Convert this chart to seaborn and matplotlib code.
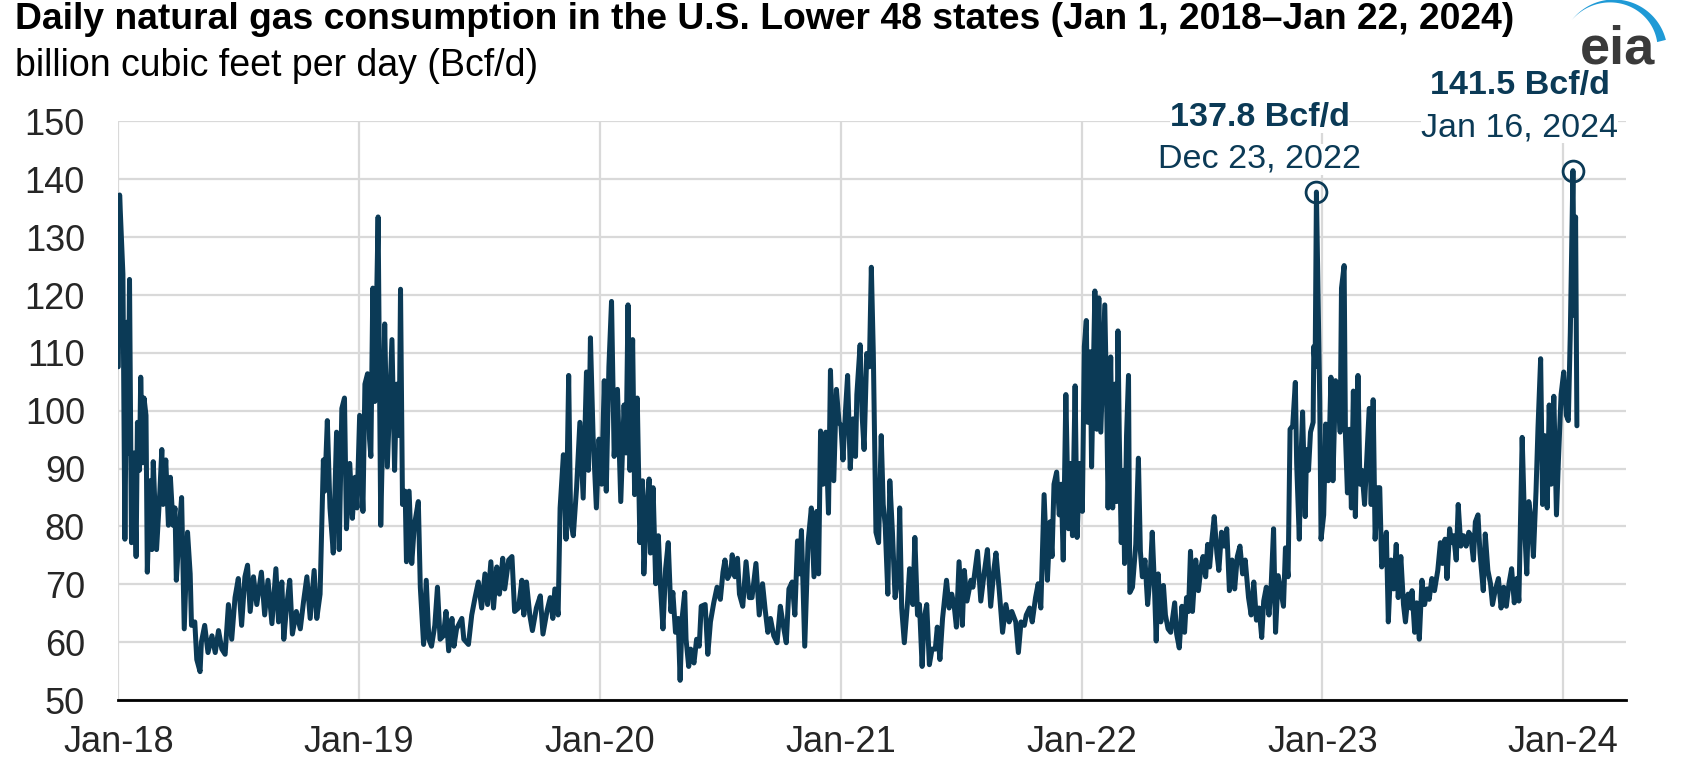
import numpy as np
import pandas as pd
import matplotlib
matplotlib.use("Agg")
import matplotlib.pyplot as plt
import matplotlib.dates as mdates
import seaborn as sns

# daily consumption, day offsets counted from Jan 1, 2018
days_2018 = [0, 2, 7, 10, 13, 15, 17, 20, 24, 27, 29, 32, 34, 37, 39, 42, 44, 48, 51, 53,
             58, 63, 66, 68, 72, 76, 79, 83, 86, 88, 93, 96, 100, 105, 109, 111, 116, 119, 124, 126,
             131, 136, 142, 147, 152, 157, 162, 167, 172, 177, 182, 187, 192, 196, 200, 205, 210, 217, 222, 227,
             233, 239, 243, 248, 251, 255, 260, 264, 270, 276, 281, 286, 291, 297, 301, 306, 311, 313, 317, 321,
             326, 331, 335, 339, 343, 346, 351, 355, 359, 362]
bcf_2018 = [107.6, 137.3, 123.6, 77.8, 115.3, 92.7, 122.7, 77.2, 92.7, 74.8, 98, 89.7, 105.8, 91, 102.2, 99.2, 72.1, 87.9, 76, 91.2,
            76, 86, 93.3, 83.8, 91.5, 80.2, 88.5, 80.2, 83.2, 70.7, 80.2, 85, 62.3, 79, 71.8, 62.9, 63.5, 57, 54.9, 60,
            62.9, 58.2, 61.1, 58.2, 62, 58.8, 57.9, 66.5, 60.5, 67.7, 71, 62.9, 71.3, 73.3, 65.3, 71.3, 66.5, 72.1, 64.7, 70.7,
            63.2, 72.7, 63.5, 70.4, 60.5, 65.9, 70.7, 61.4, 65.3, 62.3, 67.1, 71.3, 64.1, 72.4, 64.1, 68.3, 91.5, 86.1, 98.3, 83.2,
            75.4, 96.3, 76, 100.4, 102.2, 79.6, 90.9, 81.4, 88.5, 83.2]

days_2019 = [366, 371, 374, 378, 381, 383, 386, 389, 394, 398, 402, 404, 408, 415, 419, 422, 426, 428, 431, 435,
             437, 441, 445, 449, 455, 458, 463, 467, 471, 475, 480, 484, 488, 493, 497, 501, 506, 509, 513, 521,
             524, 531, 536, 541, 546, 551, 556, 560, 565, 569, 574, 578, 583, 586, 592, 597, 601, 607, 612, 615,
             619, 624, 628, 634, 640, 644, 650, 655, 659, 662, 667, 670, 675, 679, 683, 686, 690, 695, 700, 705,
             710, 713, 716, 720, 725]
bcf_2019 = [99.2, 82.6, 104.6, 106.4, 95.1, 92.1, 121.2, 101.6, 133.5, 80.2, 101.6, 115, 90.3, 112.3, 89.7, 104.6, 95.7, 121, 83.8, 86.1,
            73.9, 86.1, 73.6, 80.2, 84.3, 69.5, 59.6, 70.7, 60.5, 59.3, 62.9, 69.5, 60.5, 61.1, 65.3, 58.5, 64.1, 59.3, 62.3, 64.1,
            60.5, 59.6, 64.7, 67.7, 70.4, 65.9, 71.8, 66.5, 73.9, 65.9, 73, 68.3, 74.5, 69.2, 74.2, 74.8, 65.3, 65.9, 70.7, 64.7,
            70.4, 64.7, 62, 65.9, 68, 61.4, 65.3, 67.7, 64.1, 69.2, 64.7, 83.2, 92.4, 77.8, 106.1, 80.8, 78.4, 86.7, 98, 84.9,
            106.7, 89.7, 112.6, 95.7, 83.2]

days_2020 = [729, 733, 737, 740, 744, 748, 752, 757, 762, 767, 770, 773, 776, 780, 783, 787, 791, 795, 797, 801,
             805, 807, 811, 815, 819, 822, 826, 830, 834, 838, 841, 845, 849, 852, 855, 859, 861, 865, 868, 873,
             877, 881, 884, 890, 894, 898, 903, 908, 913, 917, 920, 924, 929, 931, 935, 939, 942, 947, 952, 957,
             961, 967, 972, 977, 981, 985, 989, 994, 999, 1004, 1008, 1013, 1017, 1022, 1026, 1030, 1033, 1036, 1041, 1046,
             1051, 1055, 1059, 1062, 1065, 1069, 1073, 1077, 1080, 1085, 1089, 1093]
bcf_2020 = [95.1, 87.3, 105.2, 86.1, 107.6, 118.9, 92.1, 103.7, 84.3, 101, 92.7, 118.3, 89.7, 112.3, 85.5, 102.2, 77.2, 87.9, 71.8, 82.6,
            88.2, 75.4, 86.7, 70.1, 78.4, 70.1, 62.3, 72.7, 77.2, 65.3, 68.6, 61.7, 64.1, 53.4, 64.1, 68.6, 60.5, 55.8, 58.8, 56.4,
            60.5, 59.3, 66.2, 66.5, 57.9, 63.5, 66.8, 69.5, 67.4, 72.1, 74.2, 71, 72.1, 75.1, 71.3, 74.5, 68.3, 66.2, 73.9, 67.7,
            67.7, 73.6, 64.7, 70.1, 65.6, 61.7, 64.1, 61.1, 59.9, 66.2, 63.2, 59.9, 69.2, 70.4, 64.7, 77.5, 71.8, 79.3, 59.3, 77.2,
            83.2, 71.3, 82.6, 71.8, 96.5, 87.3, 96.3, 82.3, 107, 87.9, 103.7, 98]

days_2021 = [1096, 1099, 1103, 1106, 1110, 1114, 1118, 1120, 1125, 1128, 1131, 1135, 1139, 1142, 1145, 1149, 1153, 1157, 1160, 1163,
             1167, 1170, 1174, 1178, 1183, 1185, 1188, 1192, 1197, 1200, 1205, 1208, 1212, 1215, 1219, 1222, 1226, 1230, 1234, 1239,
             1242, 1246, 1250, 1256, 1260, 1264, 1268, 1271, 1275, 1280, 1283, 1287, 1293, 1296, 1303, 1308, 1313, 1318, 1323, 1328,
             1331, 1336, 1341, 1346, 1351, 1355, 1361, 1365, 1369, 1374, 1377, 1382, 1386, 1391, 1395, 1399, 1404, 1409, 1413, 1416,
             1419, 1423, 1427, 1430, 1433, 1437, 1441, 1444, 1447, 1451, 1454, 1458]
bcf_2021 = [97.4, 91.5, 100.4, 106.1, 90, 98.6, 92.1, 102.8, 111.4, 99.2, 93.3, 109.9, 107.6, 124.8, 109.9, 79, 77.2, 95.7, 83.8, 80.2,
            68.3, 87.9, 79, 67.7, 71.8, 83.2, 65.9, 59.9, 67.1, 72.7, 66.5, 78.1, 64.7, 66.5, 55.8, 64.1, 66.5, 56.1, 58.8, 58.8,
            62.6, 57, 64.1, 70.7, 65.9, 68.3, 65.9, 62.6, 73.9, 62.9, 72.4, 67.1, 70.7, 69.5, 75.7, 67.1, 71.8, 76, 66.2, 72.7,
            75.4, 68.9, 61.7, 66.5, 63.5, 65.3, 63.5, 58.2, 63.5, 62.9, 64.7, 65.9, 63.5, 67.7, 70.1, 65.9, 85.5, 70.7, 80.8, 74.8,
            87.3, 89.4, 82, 87.3, 74.2, 102.8, 79.6, 90.9, 78.4, 104.3, 78.1, 90.9]

days_2022 = [1462, 1465, 1468, 1470, 1474, 1476, 1479, 1481, 1484, 1487, 1490, 1493, 1496, 1499, 1501, 1505, 1508, 1511, 1514, 1516,
             1518, 1521, 1524, 1526, 1529, 1532, 1534, 1538, 1543, 1547, 1550, 1553, 1557, 1561, 1565, 1568, 1571, 1574, 1577, 1581,
             1585, 1588, 1592, 1596, 1602, 1605, 1609, 1613, 1617, 1620, 1623, 1626, 1629, 1634, 1638, 1642, 1645, 1649, 1652, 1655,
             1658, 1662, 1666, 1669, 1673, 1677, 1681, 1685, 1689, 1693, 1697, 1701, 1705, 1709, 1714, 1718, 1722, 1726, 1730, 1734,
             1737, 1741, 1745, 1748, 1752, 1755, 1759, 1763, 1767, 1770, 1774, 1777, 1781, 1785, 1787, 1791, 1793, 1796, 1800, 1802,
             1805, 1808, 1812, 1813, 1815, 1817, 1822, 1824]
bcf_2022 = [82.6, 111.1, 115.6, 98, 110.2, 90.3, 108.2, 120.7, 96.8, 119.5, 96.3, 107.6, 118.3, 100.4, 83.2, 109.3, 83.2, 104.6, 84.3, 113.8,
            95.7, 77.2, 89.7, 73.6, 95.7, 106.1, 68.6, 69.5, 76.9, 91.8, 75.7, 71.3, 74.2, 66.5, 71.8, 79, 70.7, 60.2, 71.8, 63.5,
            69.8, 64.7, 62.3, 61.7, 66.8, 61.4, 59, 66.2, 61.7, 67.7, 65.3, 75.7, 65.3, 74.2, 68.9, 73, 74.8, 71.3, 76.9, 73,
            77.2, 81.7, 75.4, 72.4, 79, 76.6, 79.6, 68.9, 74.2, 69.2, 74.8, 76.6, 71.8, 74.2, 67.7, 64.7, 70.4, 63.8, 65.9, 60.8,
            67.1, 69.5, 64.7, 68.9, 79.6, 61.7, 71.5, 68.9, 66.2, 76.3, 71.3, 96.8, 97.4, 104.9, 90.9, 77.8, 89.7, 99.8, 81.7, 93.3,
            89.7, 96.3, 98, 111.1, 107.6, 137.8, 101.6, 77.8]

days_2023 = [1828, 1831, 1835, 1839, 1842, 1846, 1850, 1853, 1855, 1859, 1861, 1864, 1867, 1870, 1873, 1876, 1880, 1883, 1886, 1890,
             1894, 1897, 1900, 1903, 1906, 1910, 1913, 1916, 1919, 1923, 1926, 1930, 1934, 1938, 1941, 1945, 1949, 1952, 1956, 1960,
             1962, 1966, 1969, 1973, 1977, 1981, 1985, 1988, 1992, 1996, 2001, 2005, 2008, 2012, 2015, 2019, 2022, 2025, 2029, 2032,
             2036, 2040, 2044, 2048, 2051, 2055, 2058, 2062, 2065, 2070, 2073, 2077, 2081, 2084, 2088, 2093, 2097, 2101, 2105, 2109,
             2113, 2117, 2121, 2124, 2129, 2133, 2136, 2139, 2143, 2146, 2150, 2153, 2157, 2160, 2163, 2167, 2170, 2173, 2177, 2181,
             2184, 2188, 2192, 2196, 2199, 2202, 2206, 2208, 2210, 2212]
bcf_2023 = [82, 97.7, 87.9, 105.8, 87.9, 105.2, 104, 96.3, 121.2, 125.1, 95.7, 85.8, 96.8, 83.2, 103.4, 81.7, 106.1, 87.3, 89.7, 83.8,
            93.3, 100.4, 83.8, 101.9, 77.8, 86.7, 86.7, 73, 74.2, 79, 63.5, 74.2, 69.2, 76.9, 67.7, 74.8, 66.5, 63.5, 68.3, 65.9,
            68.9, 61.7, 66.8, 60.5, 70.7, 66.5, 69.2, 67.4, 71, 68.9, 72.4, 77.2, 73.6, 77.8, 71, 79.6, 77.2, 78.4, 74.2, 83.8,
            76.6, 78.4, 76.6, 79, 78.4, 74.2, 80.8, 82, 75.4, 68.9, 78.7, 72.4, 70.1, 66.5, 68.9, 71, 65.9, 69.5, 66.2, 70.1,
            72.7, 66.8, 71, 67.1, 95.4, 79, 71.8, 84.3, 80.8, 74.8, 86.1, 97.1, 109, 83.8, 95.7, 83.2, 101, 87.3, 102.5, 82,
            91.5, 102.8, 106.7, 99.2, 98.3, 113.5, 141.5, 116.5, 133.5, 97.4]

peak_dates = ["2022-12-23", "2024-01-16"]
peak_values = [137.8, 141.5]
peak_labels = ["Dec 23, 2022", "Jan 16, 2024"]

start = pd.Timestamp("2018-01-01")
days = days_2018 + days_2019 + days_2020 + days_2021 + days_2022 + days_2023
bcf = bcf_2018 + bcf_2019 + bcf_2020 + bcf_2021 + bcf_2022 + bcf_2023
df = pd.DataFrame({"date": start + pd.to_timedelta(days, unit="D"), "bcf": bcf})

navy = "#0b3a56"
grid_c = "#d9d9d9"

sns.set_style("white")
plt.rcParams["font.family"] = ["Liberation Sans", "DejaVu Sans"]

W, H = 1683, 761
fig = plt.figure(figsize=(W / 100, H / 100), dpi=100)
ax = fig.add_axes([118.3 / W, 1 - 700 / H, (1625.7 - 118.3) / W, (700 - 121.5) / H])

sns.lineplot(data=df, x="date", y="bcf", ax=ax, color=navy, lw=3.6, estimator=None)

ax.set_ylim(50, 150)
ax.set_xlim(pd.Timestamp("2018-01-01"), pd.Timestamp("2024-04-05"))
ax.set_yticks(np.arange(50, 151, 10))
ax.xaxis.set_major_locator(mdates.YearLocator())
ax.xaxis.set_major_formatter(mdates.DateFormatter("%b-%y"))
ax.grid(True, color=grid_c, lw=1.6)
ax.set_axisbelow(True)
for s in ["left", "right", "top"]:
    ax.spines[s].set_visible(False)
ax.spines["bottom"].set_color("black")
ax.spines["bottom"].set_linewidth(2)
ax.spines["bottom"].set_zorder(5)
ax.tick_params(axis="x", length=8, width=1.6, color="black", labelsize=26, pad=10)
ax.tick_params(axis="y", length=0, labelsize=26, pad=24)
ax.set_xlabel("")
ax.set_ylabel("")

# peak markers and labels
for d, v, lab, dx, dy in zip(peak_dates, peak_values, peak_labels, [-57, -53], [33, 43]):
    x = pd.Timestamp(d)
    ax.plot([x], [v], marker="o", ms=15, mfc="none", mec=navy, mew=2, clip_on=False, zorder=6)
    box = dict(facecolor="white", edgecolor="none", pad=0)
    ax.annotate(lab, (x, v), xytext=(dx, dy), textcoords="offset pixels", ha="center", va="center",
                fontsize=24.5, color=navy, bbox=box, zorder=7)
    ax.annotate(f"{v} Bcf/d", (x, v), xytext=(dx, dy + 42), textcoords="offset pixels", ha="center", va="center",
                fontsize=24.5, fontweight="bold", color=navy, bbox=box, zorder=7)

fig.text(15 / W, 1 - 2 / H, "Daily natural gas consumption in the U.S. Lower 48 states (Jan 1, 2018\u2013Jan 22, 2024)",
         fontsize=26.8, fontweight="bold", ha="left", va="top", color="black")
fig.text(15 / W, 1 - 48 / H, "billion cubic feet per day (Bcf/d)", fontsize=27, ha="left", va="top", color="black")

# eia logo
lax = fig.add_axes([1555 / W, 1 - 80 / H, 128 / W, 80 / H])
lax.set_xlim(1555, 1683)
lax.set_ylim(80, 0)
lax.axis("off")
cx, cy, r = 1614, 53, 53.5
th = np.radians(np.linspace(141.8, 14.2, 80))
t = np.linspace(0, 1, 80)
wdt = 9 * t ** 1.2
xo, yo = cx + r * np.cos(th), cy - r * np.sin(th)
xi, yi = cx + (r - wdt) * np.cos(th), cy - (r - wdt) * np.sin(th)
lax.fill(np.concatenate([xo, xi[::-1]]), np.concatenate([yo, yi[::-1]]), color="#1f9ad6", lw=0)
lax.text(1618, 64, "eia", fontsize=39, fontweight="bold", color="#3a3a3a", ha="center", va="baseline")

fig.savefig("out.png", dpi=100)
